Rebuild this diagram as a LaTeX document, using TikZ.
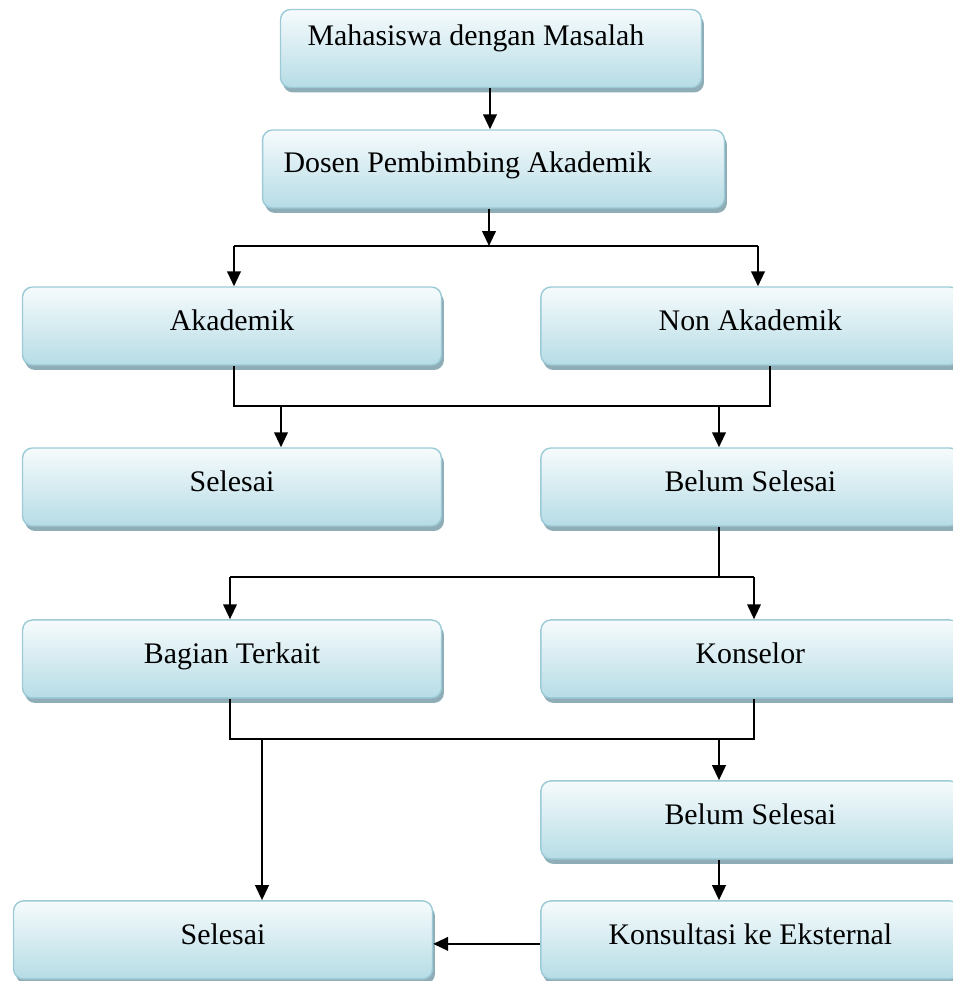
\documentclass[tikz,border=0pt]{standalone}
\usepackage{fontspec}
\setmainfont{Liberation Serif}
\usetikzlibrary{arrows.meta,shadows}
\definecolor{boxtop}{HTML}{F6FBFC}
\definecolor{boxbottom}{HTML}{B6DCE6}
\definecolor{boxline}{HTML}{9CCBD7}
\definecolor{boxshadow}{HTML}{8EADB7}
\begin{document}
\begin{tikzpicture}[x=0.02cm, y=-0.02cm, >={Triangle[length=0.3cm,width=0.27cm]}]
		\tikzstyle{block} =[draw=boxline, line width=0.8pt, minimum width=8.38cm, minimum height=1.56cm, text height=0.42cm, text depth=0.24cm, rounded corners=0.2cm, top color=boxtop, bottom color=boxbottom, drop shadow={shadow xshift=0.05cm, shadow yshift=-0.1cm, fill=boxshadow, opacity=1}, font=\fontsize{17}{20}\selectfont];
		\tikzstyle{line} =[line width=1.35pt];
		\clip (0,0) rectangle (953,981);

		\node[block, text width=7.34cm, align=flush left, inner xsep=0.54cm, minimum width=0cm, text depth=0.56cm] (mhs) at (491,48.5) {Mahasiswa dengan Masalah};
		\node[block, text width=8.4cm, align=flush left, inner xsep=0.42cm, minimum width=0cm, text depth=0.28cm] (dosen) at (493.5,169) {Dosen Pembimbing Akademik};

		\node[block] (akad) at (232,326) {Akademik};
		\node[block, right of = akad, node distance=10.37cm] (nonakad) {Non Akademik};
		\node[block, below of = akad, node distance=3.22cm] (selesai) {Selesai};
		\node[block, right of = selesai, node distance=10.37cm] (belum) {Belum Selesai};
		\node[block, below of = selesai, node distance=3.44cm] (bagian) {Bagian Terkait};
		\node[block, right of = bagian, node distance=10.37cm] (konselor) {Konselor};
		\node[block, below of = konselor, node distance=3.22cm] (belumdua) {Belum Selesai};
		\node[block, below of = belumdua, node distance=2.4cm] (konsul) {Konsultasi ke Eksternal};
		\node[block, left of = konsul, node distance=10.55cm] (selesaidua) {Selesai};

		% junction points
		\coordinate (pisah1) at (489,246);
		\coordinate (pisah1l) at (234,246);
		\coordinate (pisah1r) at (758,246);
		\coordinate (gabung1l) at (234,406);
		\coordinate (gabung1r) at (770,406);
		\coordinate (pisah2) at (719,577);
		\coordinate (pisah2l) at (230,577);
		\coordinate (pisah2r) at (754,577);
		\coordinate (gabung2l) at (230,739);
		\coordinate (gabung2r) at (754,739);

		\draw[->,line] (mhs.south -| 490,0) -- (dosen.north -| 490,0);
		\draw[->,line] (dosen.south -| pisah1) -- (pisah1);
		\draw[line] (pisah1l) -- (pisah1r);
		\draw[->,line] (pisah1l) -- (akad.north -| pisah1l);
		\draw[->,line] (pisah1r) -- (nonakad.north -| pisah1r);

		\draw[line] (akad.south -| gabung1l) -- (gabung1l) -- (gabung1r) -- (nonakad.south -| gabung1r);
		\draw[->,line] (281,406) -- (selesai.north -| 281,0);
		\draw[->,line] (719,406) -- (belum.north -| 719,0);

		\draw[line] (belum.south -| pisah2) -- (pisah2);
		\draw[line] (pisah2l) -- (pisah2r);
		\draw[->,line] (pisah2l) -- (bagian.north -| pisah2l);
		\draw[->,line] (pisah2r) -- (konselor.north -| pisah2r);

		\draw[line] (bagian.south -| gabung2l) -- (gabung2l) -- (gabung2r) -- (konselor.south -| gabung2r);
		\draw[->,line] (262,739) -- (selesaidua.north -| 262,0);
		\draw[->,line] (719,739) -- (belumdua.north -| 719,0);

		\draw[->,line] (belumdua.south -| 719,0) -- (konsul.north -| 719,0);
		\draw[->,line] ([yshift=-0.08cm]konsul.west) -- ([yshift=-0.08cm]selesaidua.east);
	\end{tikzpicture}
\end{document}
